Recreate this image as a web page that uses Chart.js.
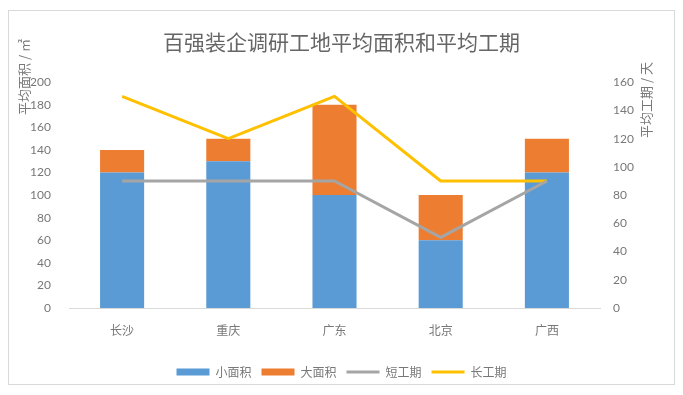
<!DOCTYPE html>
<html>
<head>
<meta charset="utf-8">
<script src="https://cdn.jsdelivr.net/npm/chart.js@4/dist/chart.umd.min.js"></script>
<style>
  body { margin: 0; background: #fff; }
  #frame { position: absolute; left: 8px; top: 10px; width: 667px; height: 375px; box-sizing: border-box; border: 1px solid #d9d9d9; }
  #c { position: absolute; left: 0; top: 0; }
</style>
</head>
<body>
<div id="frame"></div>
<canvas id="c" width="683" height="395"></canvas>
<script>
// 数据
const categories = ['长沙', '重庆', '广东', '北京', '广西'];
const smallArea = [120, 130, 100, 60, 120];
const largeArea = [20, 20, 80, 40, 30];
const shortPeriod = [90, 90, 90, 50, 90];
const longPeriod = [150, 120, 150, 90, 90];
const areaTicks = { min: 0, max: 200, step: 20 };
const periodTicks = { min: 0, max: 160, step: 20 };

const fontFamily = "Lato, 'Noto Sans CJK SC', sans-serif";
const textColor = '#787878';

// 坐标轴标题（两侧都是自下而上）
const axisTitles = {
    id: 'axisTitles',
    afterDraw(chart) {
        const ctx = chart.ctx;
        ctx.save();
        ctx.font = "13px 'Noto Sans CJK SC', sans-serif";
        ctx.fillStyle = textColor;
        ctx.textAlign = 'center';
        ctx.textBaseline = 'middle';
        [['平均面积 / ㎡', 24, 77], ['平均工期 / 天', 646, 100]].forEach(([t, x, y]) => {
            ctx.save();
            ctx.translate(x, y);
            ctx.rotate(-Math.PI / 2);
            ctx.fillText(t, 0, 0);
            ctx.restore();
        });
        ctx.restore();
    }
};

new Chart(document.getElementById('c'), {
    type: 'bar',
    data: {
        labels: categories,
        datasets: [
            { label: '小面积', data: smallArea, backgroundColor: '#5b9bd5', stack: 'area', yAxisID: 'y', order: 1, pointStyle: 'rect' },
            { label: '大面积', data: largeArea, backgroundColor: '#ed7d31', stack: 'area', yAxisID: 'y', order: 1, pointStyle: 'rect' },
            { type: 'line', label: '短工期', data: shortPeriod, borderColor: '#a5a5a5', backgroundColor: '#a5a5a5', borderWidth: 3, pointRadius: 0, yAxisID: 'y1', order: 0, pointStyle: 'line', borderJoinStyle: 'round' },
            { type: 'line', label: '长工期', data: longPeriod, borderColor: '#ffc000', backgroundColor: '#ffc000', borderWidth: 3, pointRadius: 0, yAxisID: 'y1', order: 0, pointStyle: 'line', borderJoinStyle: 'round' }
        ]
    },
    options: {
        responsive: false,
        animation: false,
        devicePixelRatio: 1,
        layout: { padding: { left: 0, right: 0, top: 0, bottom: 7 } },
        datasets: { bar: { barPercentage: 0.415, categoryPercentage: 1 } },
        plugins: {
            title: {
                display: true,
                text: '百强装企调研工地平均面积和平均工期',
                color: '#666666',
                font: { family: "'Noto Sans CJK SC', sans-serif", size: 21, weight: 'normal' },
                padding: { top: 29, bottom: 28 }
            },
            legend: {
                position: 'bottom',
                labels: {
                    usePointStyle: true,
                    pointStyleWidth: 33,
                    boxHeight: 7,
                    padding: 10,
                    color: textColor,
                    font: { family: "'Noto Sans CJK SC', sans-serif", size: 12 },
                    sort: (a, b) => a.datasetIndex - b.datasetIndex
                }
            },
            tooltip: { enabled: false }
        },
        scales: {
            x: {
                stacked: true,
                grid: { display: false },
                border: { display: true, color: '#d9d9d9' },
                ticks: { color: textColor, padding: 7, font: { family: "'Noto Sans CJK SC', sans-serif", size: 12 } },
                afterFit(scale) { scale.height = 48; }
            },
            y: {
                stacked: true,
                position: 'left',
                min: areaTicks.min,
                max: areaTicks.max,
                grid: { display: false },
                border: { display: false },
                ticks: { stepSize: areaTicks.step, color: textColor, padding: 10, font: { family: fontFamily, size: 12 } },
                afterFit(scale) { scale.width = 69; }
            },
            y1: {
                position: 'right',
                min: periodTicks.min,
                max: periodTicks.max,
                grid: { display: false },
                border: { display: false },
                ticks: { stepSize: periodTicks.step, color: textColor, padding: 5, font: { family: fontFamily, size: 12 } },
                afterFit(scale) { scale.width = 83; }
            }
        }
    },
    plugins: [axisTitles]
});
</script>
</body>
</html>
